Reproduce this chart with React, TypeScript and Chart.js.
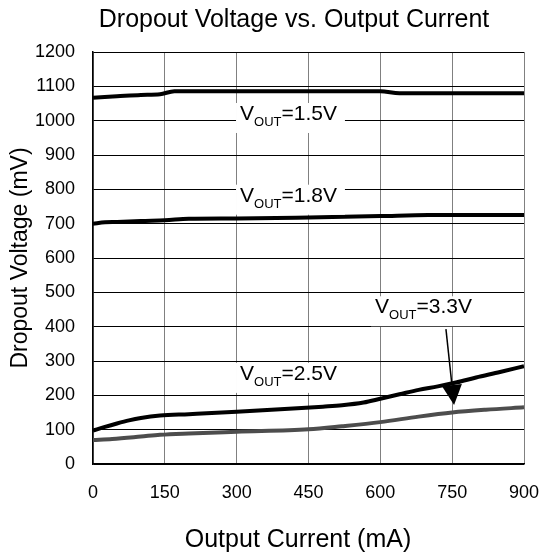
import React, { useEffect, useRef } from "react";
import { Chart, registerables } from "chart.js";

Chart.register(...registerables);

const currents15 = [0, 50, 100, 140, 170, 300, 450, 600, 640, 750, 900];
const vout15 = [1067, 1071, 1075, 1077, 1086, 1086, 1086, 1086, 1080, 1080, 1080];

const currents18 = [0, 25, 50, 100, 150, 200, 300, 450, 600, 700, 900];
const vout18 = [700, 704, 705, 708, 710, 714, 715, 718, 722, 725, 725];

const currents25 = [0, 25, 50, 75, 100, 140, 200, 300, 400, 480, 520, 565, 600, 640, 680, 720, 760, 800, 850, 900];
const vout25 = [97, 108, 118, 127, 134, 141, 145, 152, 160, 167, 171, 179, 190, 203, 216, 226, 238, 252, 268, 285];

const currents33 = [0, 40, 100, 140, 200, 300, 450, 520, 600, 680, 750, 820, 900];
const vout33 = [70, 73, 80, 85, 89, 94, 101, 110, 122, 138, 150, 158, 165];

const labelTexts = ["=1.5V", "=1.8V", "=2.5V", "=3.3V"];
const labelAnchorX = [307, 307, 307, 589];
const labelAnchorY = [1002, 764, 245, 439];

const arrowFrom = { x: 737, y: 393 };
const arrowTo = { x: 754, y: 172 };

const xTicks = [0, 150, 300, 450, 600, 750, 900];

const chartTitle = "Dropout Voltage vs. Output Current";
const xTitle = "Output Current (mA)";

const FONT = "'Liberation Sans', Arial, sans-serif";

function toPoints(xs: number[], ys: number[]) {
  return xs.map((x, i) => ({ x, y: ys[i] }));
}

const titlePlugin = {
  id: "customTitle",
  afterDraw(chart: any) {
    const ctx = chart.ctx;
    ctx.save();
    ctx.fillStyle = "#000";
    ctx.font = `25px ${FONT}`;
    ctx.textAlign = "center";
    ctx.textBaseline = "alphabetic";
    ctx.fillText(chartTitle, 294, 27);
    ctx.fillText(xTitle, 298, 547);
    ctx.restore();
  },
};

const labelPlugin = {
  id: "voutLabels",
  afterDatasetsDraw(chart: any) {
    const ctx = chart.ctx;
    const xs = chart.scales.x;
    const ys = chart.scales.y;
    ctx.save();
    for (let i = 0; i < labelTexts.length; i++) {
      const px = xs.getPixelForValue(labelAnchorX[i]);
      const py = ys.getPixelForValue(labelAnchorY[i]);
      ctx.font = `21px ${FONT}`;
      const wV = ctx.measureText("V").width;
      const wRest = ctx.measureText(labelTexts[i]).width;
      ctx.font = `13px ${FONT}`;
      const wSub = ctx.measureText("OUT").width;
      const total = wV + wSub + wRest;
      ctx.fillStyle = "#fff";
      ctx.fillRect(px - 4, py - 17, total + 12, 30);
      ctx.fillStyle = "#000";
      ctx.textBaseline = "alphabetic";
      ctx.textAlign = "left";
      ctx.font = `21px ${FONT}`;
      ctx.fillText("V", px, py);
      ctx.font = `13px ${FONT}`;
      ctx.fillText("OUT", px + wV, py + 6);
      ctx.font = `21px ${FONT}`;
      ctx.fillText(labelTexts[i], px + wV + wSub, py);
    }
    const x1 = xs.getPixelForValue(arrowFrom.x);
    const y1 = ys.getPixelForValue(arrowFrom.y);
    const x2 = xs.getPixelForValue(arrowTo.x);
    const y2 = ys.getPixelForValue(arrowTo.y);
    const ang = Math.atan2(y2 - y1, x2 - x1);
    const headLen = 20;
    const headHalf = 10;
    const bx = x2 - headLen * Math.cos(ang);
    const by = y2 - headLen * Math.sin(ang);
    ctx.strokeStyle = "#000";
    ctx.lineWidth = 1.5;
    ctx.beginPath();
    ctx.moveTo(x1, y1);
    ctx.lineTo(bx, by);
    ctx.stroke();
    ctx.fillStyle = "#000";
    ctx.beginPath();
    ctx.moveTo(x2, y2);
    ctx.lineTo(bx + headHalf * Math.sin(ang), by - headHalf * Math.cos(ang));
    ctx.lineTo(bx - headHalf * Math.sin(ang), by + headHalf * Math.cos(ang));
    ctx.closePath();
    ctx.fill();
    ctx.restore();
  },
};

export default function App() {
  const ref = useRef<HTMLCanvasElement | null>(null);
  useEffect(() => {
    if (!ref.current) return;
    const lineDs = (data: any, color: string) => ({
      data,
      borderColor: color,
      backgroundColor: color,
      borderWidth: 4,
      pointRadius: 0,
      tension: 0.3,
      cubicInterpolationMode: "monotone" as const,
      fill: false,
    });
    const chart = new Chart(ref.current, {
      type: "line",
      data: {
        datasets: [
          lineDs(toPoints(currents15, vout15), "#000"),
          lineDs(toPoints(currents18, vout18), "#000"),
          lineDs(toPoints(currents25, vout25), "#000"),
          lineDs(toPoints(currents33, vout33), "#4d4d4d"),
        ],
      },
      options: {
        responsive: false,
        animation: false,
        layout: { padding: { left: 0, right: 0, top: 52, bottom: 0 } },
        plugins: {
          legend: { display: false },
          tooltip: { enabled: false },
          title: { display: false },
        },
        scales: {
          x: {
            type: "linear",
            min: 0,
            max: 900,
            afterBuildTicks: (s: any) => {
              s.ticks = xTicks.map((v) => ({ value: v }));
            },
            afterFit: (s: any) => {
              s.height = 90;
              s.paddingLeft = 0;
              s.paddingRight = 17;
            },
            grid: { color: "#808080", lineWidth: 1, drawTicks: false },
            border: { display: true, color: "#000", width: 1.5 },
            ticks: {
              color: "#000",
              font: { family: FONT, size: 18 },
              padding: 18,
              maxRotation: 0,
              autoSkip: false,
              callback: (v: any) => String(v),
            },
            title: { display: false },
          },
          y: {
            type: "linear",
            min: 0,
            max: 1200,
            ticks: {
              stepSize: 100,
              color: "#000",
              font: { family: FONT, size: 18 },
              padding: 18,
              callback: (v: any) => String(v),
            },
            afterFit: (s: any) => {
              s.width = 93;
              s.paddingTop = 0;
              s.paddingBottom = 0;
            },
            grid: { color: "#000", lineWidth: 1, drawTicks: false },
            border: { display: true, color: "#000", width: 1.5 },
            title: {
              display: true,
              text: "Dropout Voltage (mV)",
              color: "#000",
              font: { family: FONT, size: 23 },
              padding: { top: 7, bottom: 0 },
            },
          },
        },
      },
      plugins: [labelPlugin, titlePlugin],
    });
    return () => chart.destroy();
  }, []);
  return (
    <div style={{ position: "absolute", left: 0, top: 0, width: 541, height: 554, background: "#fff" }}>
      <canvas ref={ref} width={541} height={554} />
    </div>
  );
}
